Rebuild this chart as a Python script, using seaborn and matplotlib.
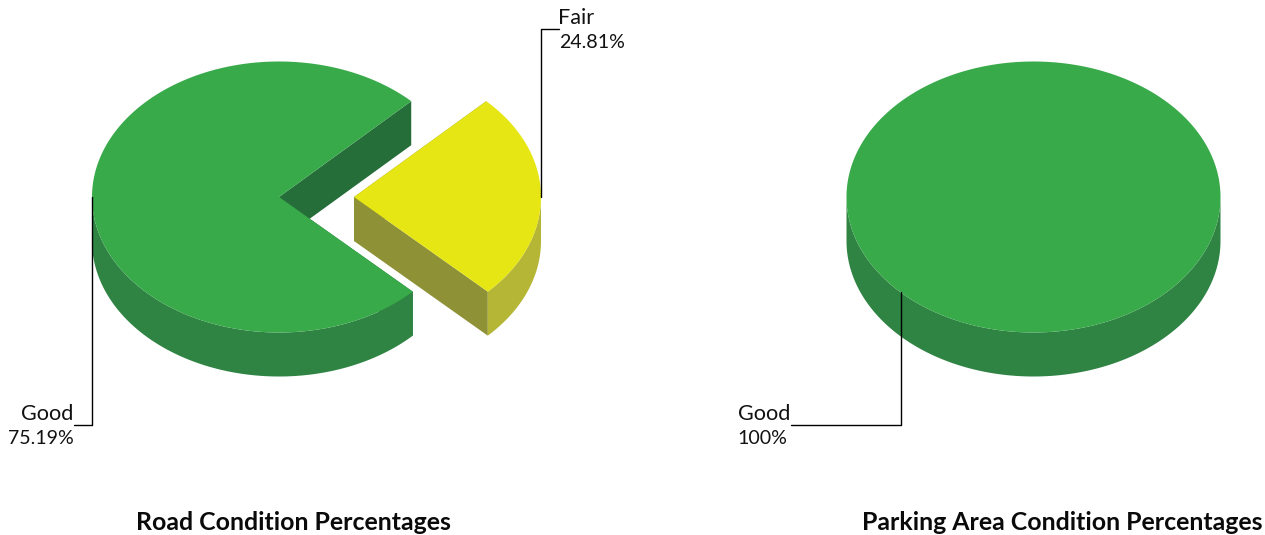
# Road and parking condition pies (3D look)
import numpy as np
import matplotlib.pyplot as plt
import seaborn as sns

# Data
road_labels = ["Fair", "Good"]
road_values = [24.81, 75.19]
parking_labels = ["Good"]
parking_values = [100]
road_title = "Road Condition Percentages"
parking_title = "Parking Area Condition Percentages"

# Colours per category: top, rim, cut face
cores = {
    "Good": ("#39aa4a", "#2f8443", "#266e39"),
    "Fair": ("#e6e615", "#b5b536", "#8f9136"),
}

# Pie shape in pixels
RX, RY, DEPTH = 187, 135.5, 44
START = 45

sns.set_theme(style="white")
plt.rcParams["font.family"] = ["Lato", "DejaVu Sans"]

fig = plt.figure(figsize=(12.65, 5.35), dpi=100)
ax = fig.add_axes([0, 0, 1, 1])
ax.set_xlim(0, 1265)
ax.set_ylim(535, 0)
ax.axis("off")


def ponto(cx, cy, ang):
    rad = np.radians(ang)
    return cx + RX * np.cos(rad), cy - RY * np.sin(rad)


def fatia(cx, cy, inicio, fim, nome):
    # inicio > fim, going clockwise
    topo, aro, corte = cores[nome]
    cheia = inicio - fim >= 360
    angs = np.linspace(inicio, fim, 400)
    xs, ys = ponto(cx, cy, angs)

    # Cut faces
    if not cheia:
        for ang in [inicio, fim]:
            x1, y1 = ponto(cx, cy, ang)
            ax.fill(
                [cx, x1, x1, cx],
                [cy, y1, y1 + DEPTH, cy + DEPTH],
                color=corte,
                lw=0,
                zorder=1,
            )

    # Rim, only the part that faces the viewer
    seno = np.sin(np.radians(angs))
    vis = seno <= 0
    if vis.any():
        ordem = np.argsort(np.cos(np.radians(angs[vis])))
        rx, ry = xs[vis][ordem], ys[vis][ordem]
        ax.fill(
            np.r_[rx, rx[::-1]],
            np.r_[ry, ry[::-1] + DEPTH],
            color=aro,
            lw=0,
            zorder=2,
        )

    # Top
    if cheia:
        ax.fill(xs, ys, color=topo, lw=0, zorder=3)
    else:
        ax.fill(np.r_[cx, xs], np.r_[cy, ys], color=topo, lw=0, zorder=3)


def pizza(cx, cy, labels, valores, explode):
    ang = START
    for nome, val in zip(labels, valores):
        fim = ang - val * 3.6
        fatia(cx + explode.get(nome, 0), cy, ang, fim, nome)
        ang = fim


def guia(xs, ys):
    sns.lineplot(
        x=xs, y=ys, sort=False, estimator=None, color="black", lw=1, ax=ax, zorder=5
    )


pizza(279, 197, road_labels, road_values, {"Fair": 75})
pizza(1033.5, 197, parking_labels, parking_values, {})

# Leader lines
guia([92, 92, 74], [197, 425, 425])
guia([540.5, 540.5, 559], [197, 29, 29])
guia([901, 901, 791], [292, 425, 425])

# Labels
nome_st = dict(fontsize=15.6, color="#111111", va="center")
pct_st = dict(fontsize=14.1, color="#111111", va="center")
ax.text(73.5, 414.5, road_labels[1], ha="right", **nome_st)
ax.text(73.5, 438, f"{road_values[1]}%", ha="right", **pct_st)
ax.text(558, 18.5, road_labels[0], ha="left", **nome_st)
ax.text(559, 42, f"{road_values[0]}%", ha="left", **pct_st)
ax.text(738, 414.5, parking_labels[0], ha="left", **nome_st)
ax.text(737.5, 438, f"{parking_values[0]}%", ha="left", **pct_st)

# Titles
tit = dict(fontsize=17.9, fontweight="bold", color="#0a0a0a", ha="center", va="center")
ax.text(293.5, 522.5, road_title, **tit)
ax.text(1062, 522.5, parking_title, **tit)

fig.savefig("out.png", dpi=100)
